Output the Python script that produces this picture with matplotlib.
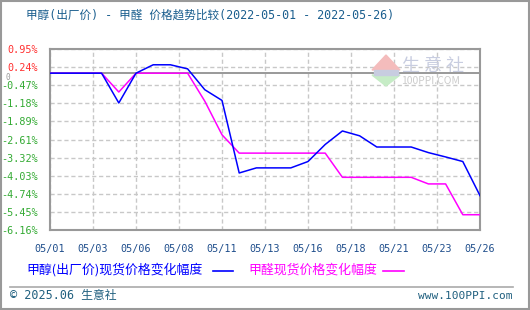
import matplotlib
matplotlib.use("Agg")
import matplotlib.pyplot as plt
from matplotlib.patches import Polygon, Rectangle
from matplotlib.lines import Line2D

plt.rcParams['font.family'] = ['Noto Sans CJK SC', 'DejaVu Sans']
MONO = ['DejaVu Sans Mono', 'Noto Sans CJK SC']

# data (percent change vs 2022-05-01)
dates = ["05/%02d" % d for d in range(1, 27)]
methanol = [0, 0, 0, 0, -1.17, 0, 0.33, 0.33, 0.17, -0.65, -1.07, -3.92, -3.72,
            -3.72, -3.72, -3.47, -2.80, -2.27, -2.46, -2.90, -2.90, -2.90, -3.12,
            -3.29, -3.47, -4.81]
formaldehyde = [0, 0, 0, 0, -0.74, 0, 0, 0, 0, -1.10, -2.42, -3.14, -3.14, -3.14,
                -3.14, -3.14, -3.14, -4.09, -4.09, -4.09, -4.09, -4.09, -4.35,
                -4.35, -5.56, -5.56]
xtick_labels = ["05/01", "05/03", "05/06", "05/08", "05/11", "05/13", "05/16",
                "05/18", "05/21", "05/23", "05/26"]
ytick_labels = ["0.95%", "0.24%", "-0.47%", "-1.18%", "-1.89%", "-2.61%", "-3.32%",
                "-4.03%", "-4.74%", "-5.45%", "-6.16%"]
yticks = [float(s.rstrip('%')) for s in ytick_labels]

W, H = 530, 310


def fx(px):
    return px / W


def fy(py):
    return 1 - py / H


fig = plt.figure(figsize=(5.3, 3.1), dpi=100)
fig.patch.set_facecolor("white")
ax = fig.add_axes([fx(50), fy(230), fx(430), 181 / H])

x = list(range(len(dates)))
xticks = [i * 2.5 for i in range(11)]

for yv in yticks:
    ax.axhline(yv, color="#c8c8c8", lw=1, ls=(0, (3, 2)), zorder=1)
for xv in xticks:
    ax.axvline(xv, color="#c8c8c8", lw=1, ls=(0, (3, 2)), zorder=1)
ax.axhline(0, color="#999999", lw=1.4, zorder=2)

ax.plot(x, methanol, color="#0000ff", lw=1.1, zorder=4)
ax.plot(x, formaldehyde, color="#ff00ff", lw=1.1, zorder=3)

ax.set_xlim(0, 25)
ax.set_ylim(yticks[-1], yticks[0])
ax.set_xticks(xticks)
ax.set_xticklabels(xtick_labels, color="#1f4e8c", fontsize=7.3, family=MONO)
ax.set_yticks(yticks)
ax.set_yticklabels(ytick_labels, fontsize=7.3, family=MONO)
for lbl, v in zip(ax.get_yticklabels(), yticks):
    lbl.set_color("#ff3030" if v > 0 else "#33aa33")
ax.tick_params(length=0, pad=9)
ax.tick_params(axis='x', pad=10)
for s in ax.spines.values():
    s.set_color("#999999")
    s.set_linewidth(1.5)
fig.text(fx(5), fy(77), "0", color="#999999", fontsize=5.5, va="center", family=MONO)

# title
fig.text(fx(26), fy(15), "甲醇(出厂价) - 甲醛 价格趋势比较(2022-05-01 - 2022-05-26)",
         color="#1a5e8e", fontsize=8.4, va="center", family=MONO)

# legend
fig.text(fx(26), fy(270), "甲醇(出厂价)现货价格变化幅度", color="#0000ff",
         fontsize=9.3, va="center")
fig.add_artist(Line2D([fx(213), fx(233)], [fy(271), fy(271)], color="#0000ff", lw=1.2))
fig.text(fx(248), fy(270), "甲醛现货价格变化幅度", color="#ff00ff",
         fontsize=9.3, va="center")
fig.add_artist(Line2D([fx(383), fx(404)], [fy(271), fy(271)], color="#ff00ff", lw=1.2))

# footer
fig.add_artist(Line2D([fx(10), fx(513)], [fy(286.5), fy(286.5)], color="#aaaaaa", lw=1.2))
fig.text(fx(10), fy(296), "© 2025.06 生意社", color="#1f5f7f", fontsize=8.5,
         va="center", family=MONO)
fig.text(fx(512), fy(296), "www.100PPI.com", color="#1f5f7f", fontsize=8,
         va="center", ha="right", family=MONO)

# watermark
fig.add_artist(Polygon([[fx(372), fy(70)], [fx(400), fy(70)], [fx(386), fy(55)]],
                       closed=True, color="#f4bcbc", transform=fig.transFigure))
fig.add_artist(Polygon([[fx(372), fy(75)], [fx(400), fy(75)], [fx(386), fy(86)]],
                       closed=True, color="#c6ecc6", transform=fig.transFigure))
fig.add_artist(Rectangle((fx(374), fy(75)), fx(24), 5 / H, color="#c8cde0",
                         transform=fig.transFigure))
fig.text(fx(402), fy(66), "生 意 社", color="#c8cde0", fontsize=13, va="center")
fig.text(fx(401), fy(81), "100PPI.COM", color="#cccccc", fontsize=7.5, va="center")

# outer border
fig.add_artist(Rectangle((0.001, 0.002), 0.997, 0.995, fill=False, edgecolor="#999999",
                         lw=1.5, transform=fig.transFigure))

fig.savefig("out.png", dpi=100)
